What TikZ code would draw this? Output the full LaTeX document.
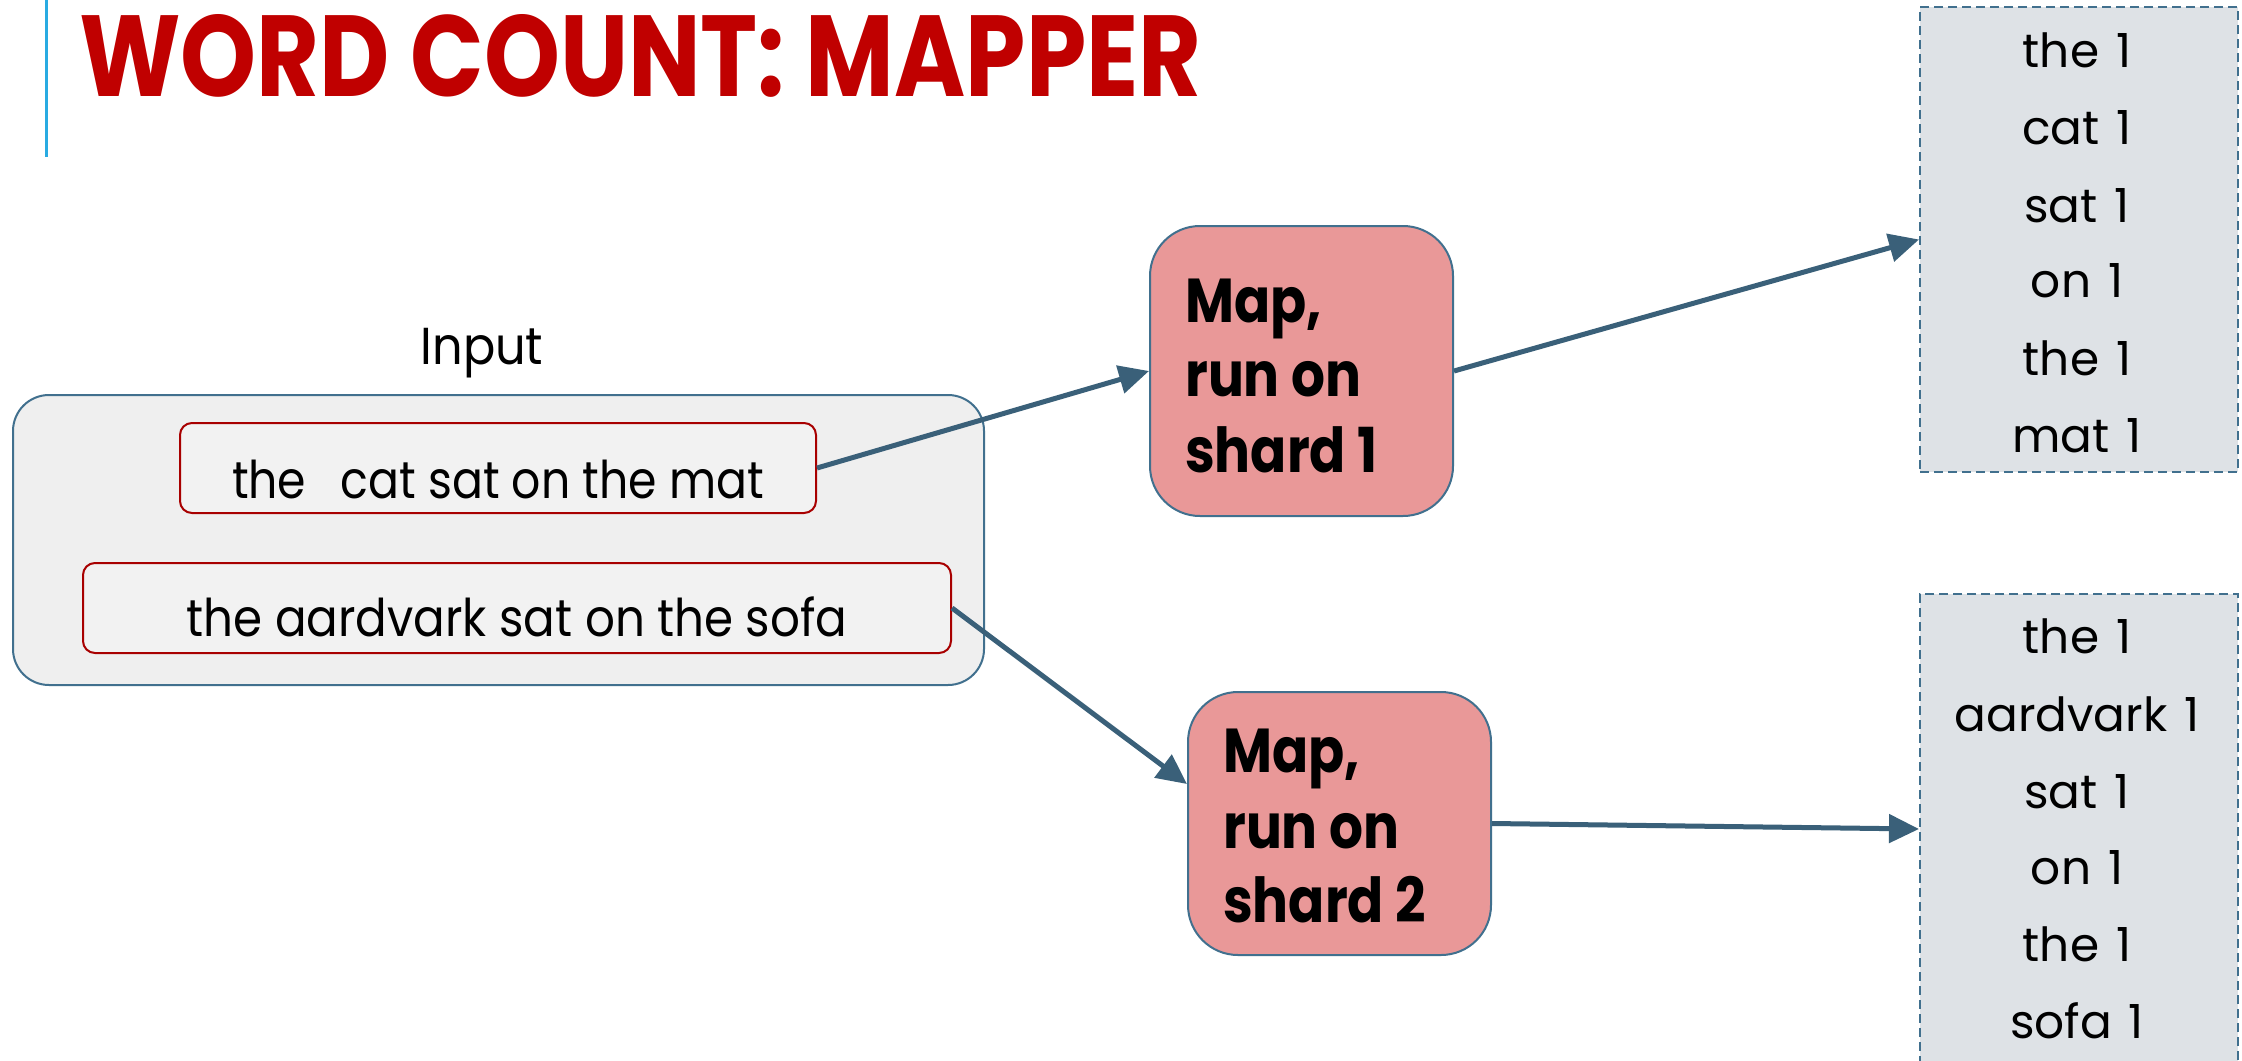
\documentclass[tikz,border=0pt]{standalone}
\usepackage{fontspec}
\usepackage{graphicx}
\setmainfont{Poppins}
\usetikzlibrary{arrows.meta,calc}

\definecolor{titlered}{HTML}{C00000}
\definecolor{accentblue}{HTML}{29ABE2}
\definecolor{slate}{HTML}{3A6079}
\definecolor{slateline}{HTML}{41708E}
\definecolor{panelgray}{HTML}{EFEFEF}
\definecolor{recordfill}{HTML}{F2F2F2}
\definecolor{recordred}{HTML}{A80000}
\definecolor{mapfill}{HTML}{E99898}
\definecolor{outfill}{HTML}{DEE2E6}

% narrow a piece of text horizontally, keeping its height
\newcommand{\narrowto}[2]{\scalebox{#1}[1]{#2}}
\newcommand{\pairfont}{\fontsize{47}{50}\selectfont\spaceskip=0.36em\relax}

\tikzset{
  panel/.style={draw=slateline, line width=2pt, fill=panelgray, rounded corners=36pt, inner sep=0pt},
  record/.style={draw=recordred, line width=2pt, fill=recordfill, rounded corners=12pt, inner sep=0pt},
  recordtext/.style={anchor=base, inner sep=0pt, font=\fontsize{52}{60}\selectfont},
  mapbox/.style={draw=slateline, line width=2pt, fill=mapfill, rounded corners=50pt, inner sep=0pt, minimum width=303pt},
  maptext/.style={anchor=base west, inner sep=0pt, font=\fontsize{62}{70}\selectfont\bfseries},
  outbox/.style={draw=slateline, line width=2pt, dashed, dash pattern=on 9pt off 5pt, fill=outfill, inner sep=0pt, minimum width=318pt},
  outtext/.style={anchor=base, inner sep=0pt, font=\pairfont},
  flow/.style={draw=slate, line width=5pt, -{Triangle[length=30pt,width=28pt]}},
}

\begin{document}
\begin{tikzpicture}[x=1pt,y=-1pt]
\useasboundingbox (0,0) rectangle (2242,1060);
\fill[white] (0,0) rectangle (2242,1060);

% heading with its accent bar
\draw[accentblue, line width=3pt] (46,0) -- (46,157);
\node[anchor=base west, inner sep=0pt, text=titlered] (title) at (79,96)
  {\resizebox{1122pt}{82pt}{\bfseries WORD COUNT: MAPPER}};

% input panel with two records
\node[anchor=base, inner sep=0pt, font=\fontsize{52}{60}\selectfont] (inputlbl) at (482,364) {\narrowto{0.92}{Input}};
\node[panel, minimum width=971pt, minimum height=290pt] (input) at (498.5,540) {};
\node[record, minimum width=636pt, minimum height=90pt] (rec1) at (498,468) {};
\node[recordtext] (rec1txt) at (498,498) {\narrowto{0.88}{the\hspace{0.75em}cat sat on the mat}};
\node[record, minimum width=868pt, minimum height=90pt] (rec2) at (517,608) {};
\node[recordtext] (rec2txt) at (517,636) {\narrowto{0.9}{the aardvark sat on the sofa}};

% map tasks
\node[mapbox, minimum height=290pt] (map1) at (1301.5,371) {};
\node[maptext] (map1a) at (1185,322) {\narrowto{0.86}{Map,}};
\node[maptext] (map1b) at (1185,396) {\narrowto{0.86}{run on}};
\node[maptext] (map1c) at (1185,472) {\narrowto{0.86}{shard 1}};

\node[mapbox, minimum height=263pt] (map2) at (1339.5,823.5) {};
\node[maptext] (map2a) at (1223,772) {\narrowto{0.86}{Map,}};
\node[maptext] (map2b) at (1223,848) {\narrowto{0.86}{run on}};
\node[maptext] (map2c) at (1223,922) {\narrowto{0.86}{shard 2}};

% emitted pairs
\node[outbox, minimum height=465pt] (out1) at (2079,239.5) {};
\foreach \w/\y [count=\i] in {the 1/67, cat 1/144, sat 1/222, on 1/297, the 1/375, mat 1/452}
  \node[outtext] (out1l\i) at (2077,\y) {\w};

\node[outbox, minimum height=470pt] (out2) at (2079,829) {};
\foreach \w/\y [count=\i] in {the 1/653, aardvark 1/731, sat 1/808, on 1/884, the 1/961, sofa 1/1038}
  \node[outtext] (out2l\i) at (2077,\y) {\w};

% data flow
\draw[flow] (rec1.east) -- (map1.west);
\draw[flow] (rec2.east) -- ($(map2.west)+(0,-39.5)$);
\draw[flow] (map1.east) -- (out1.west);
\draw[flow] (map2.east) -- (out2.west);
\end{tikzpicture}
\end{document}
